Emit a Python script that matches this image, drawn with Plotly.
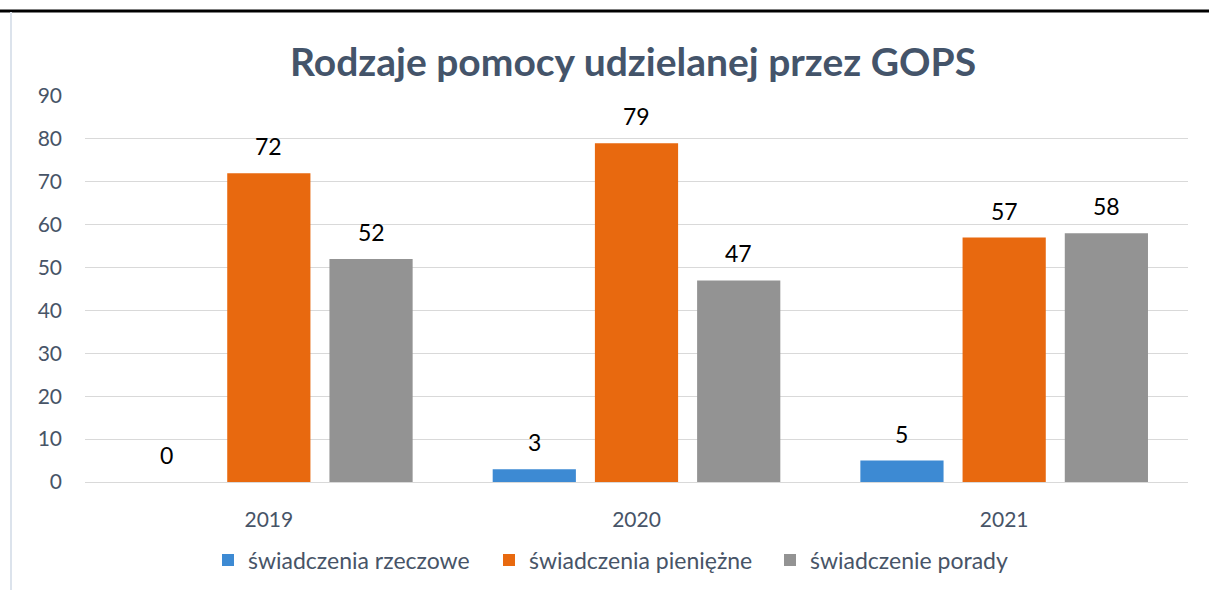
import plotly.graph_objects as go

years = ["2019", "2020", "2021"]
series_names = ["świadczenia rzeczowe", "świadczenia pieniężne", "świadczenie porady"]
rzeczowe = [0, 3, 5]
pieniezne = [72, 79, 57]
porady = [52, 47, 58]
y_ticks = [0, 10, 20, 30, 40, 50, 60, 70, 80, 90]

colors = ["#3D8AD3", "#E8690F", "#939393"]
TEXT_COLOR = "#475467"

W, H = 1209, 590
ml, mr, mt, mb = 85, 21, 96, 108
pw, ph = W - ml - mr, H - mt - mb
bargap, bargroupgap = 0.166, 0.186
FONT = "Lato, Liberation Sans, sans-serif"

fig = go.Figure()
all_series = [rzeczowe, pieniezne, porady]
for name, vals, c in zip(series_names, all_series, colors):
    fig.add_trace(go.Bar(
        x=years, y=vals, name=name,
        marker=dict(color=c, line=dict(width=0)),
        cliponaxis=False,
    ))

# value labels above bars (category index positions on the category axis)
slot_px = (1 - bargap) * (pw / len(years)) / len(all_series)
for si, vals in enumerate(all_series):
    for ci, v in enumerate(vals):
        fig.add_annotation(x=ci, y=v, xref="x", yref="y", text=str(v), showarrow=False,
                           xshift=(si - 1) * slot_px, yshift=27, yanchor="middle",
                           font=dict(family=FONT, size=23, color="#000000"))

fig.update_layout(
    width=W, height=H,
    margin=dict(l=ml, r=mr, t=mt, b=mb, autoexpand=False),
    paper_bgcolor="white", plot_bgcolor="white",
    barmode="group", bargap=bargap, bargroupgap=bargroupgap,
    title=dict(text="<b>Rodzaje pomocy udzielanej przez GOPS</b>",
               x=633 / W, xanchor="center", y=1 - 62 / H, yanchor="middle",
               font=dict(family="Lato, sans-serif", size=39, color="#44546A")),
    font=dict(family=FONT, color=TEXT_COLOR),
    xaxis=dict(type="category", showgrid=False, showline=False, ticks="",
               tickfont=dict(size=21, color=TEXT_COLOR), ticklabelstandoff=23),
    yaxis=dict(range=[0, 90], tickvals=y_ticks, showgrid=True, gridcolor="#D9D9D9", gridwidth=1,
               zeroline=True, zerolinecolor="#D9D9D9", zerolinewidth=1, showline=False,
               tickfont=dict(size=21, color=TEXT_COLOR), ticklabelstandoff=22),
    legend=dict(orientation="h", x=(208 - ml) / pw, xanchor="left", y=(mt + ph - 560) / ph,
                yanchor="middle", font=dict(size=23, color=TEXT_COLOR), itemwidth=30,
                entrywidth=236, entrywidthmode="pixels", traceorder="normal"),
    showlegend=True,
)

fig.add_shape(type="line", xref="paper", yref="paper",
              x0=-ml / pw, x1=(W - ml) / pw, y0=(mt + ph - 11) / ph, y1=(mt + ph - 11) / ph,
              line=dict(color="#000000", width=3))
fig.add_shape(type="line", xref="paper", yref="paper",
              x0=(11 - ml) / pw, x1=(11 - ml) / pw, y0=(mt + ph - 12) / ph, y1=(mt + ph - H) / ph,
              line=dict(color="#DCE3EC", width=2))

fig.write_html("out.html", config={"displayModeBar": False},
               post_script="document.body.style.margin='0';document.body.style.overflow='hidden';")
